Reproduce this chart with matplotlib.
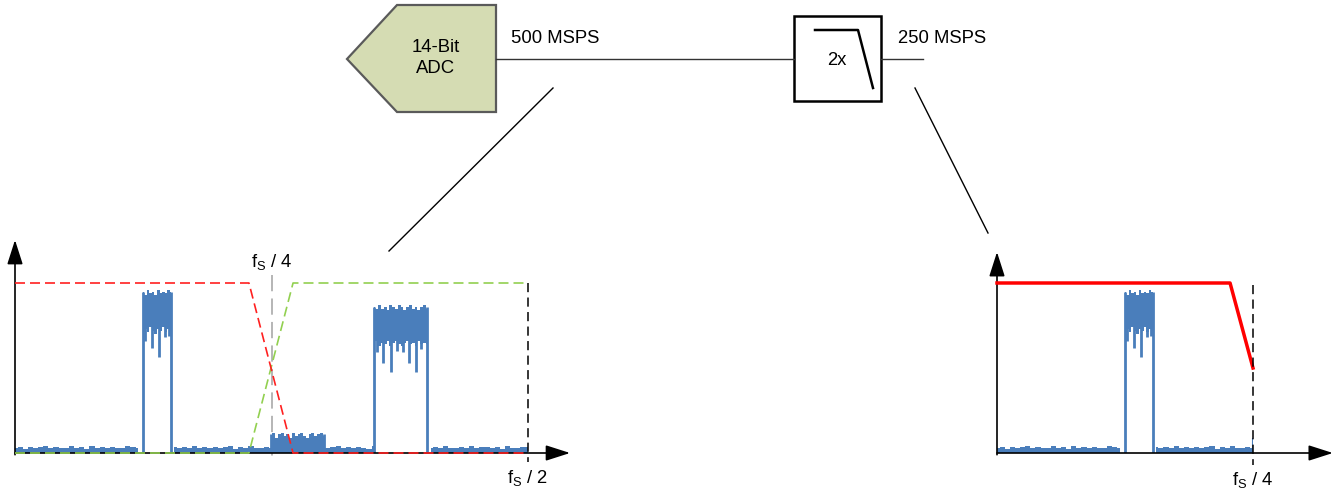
import numpy as np
import matplotlib.pyplot as plt
from matplotlib.patches import Polygon, Rectangle

plt.rcParams['font.family'] = ['Liberation Sans', 'DejaVu Sans']
plt.rcParams['mathtext.fontset'] = 'custom'
plt.rcParams['mathtext.rm'] = 'Liberation Sans'
plt.rcParams['mathtext.it'] = 'Liberation Sans:italic'

BLUE = '#4a7ebb'

# ---- spectrum data: x in MHz (fs = 500 MSPS), y normalised 0..1 ----
floor_left = [0.030, 0.034, 0.026, 0.038, 0.029, 0.033, 0.041, 0.027, 0.035, 0.031,
              0.028, 0.039, 0.032, 0.036, 0.026, 0.042, 0.030, 0.034, 0.029, 0.037,
              0.031, 0.027, 0.040, 0.033, 0.028, 0.036, 0.030, 0.045, 0.032, 0.029,
              0.035, 0.038, 0.027, 0.033, 0.030, 0.041, 0.028, 0.034, 0.031, 0.036,
              0.029, 0.033, 0.039, 0.026, 0.035, 0.030, 0.043, 0.028, 0.032, 0.037,
              0.030, 0.034, 0.027, 0.040, 0.031, 0.029, 0.036, 0.033, 0.028, 0.038,
              0.032, 0.027, 0.035, 0.041, 0.030, 0.034, 0.029, 0.037, 0.031, 0.026,
              0.039, 0.033, 0.030, 0.036, 0.028, 0.042, 0.031, 0.035, 0.027, 0.033,
              0.038, 0.030, 0.034, 0.029, 0.040, 0.032, 0.027, 0.036, 0.031, 0.044,
              0.028, 0.033, 0.037, 0.030, 0.035, 0.026, 0.039, 0.032, 0.029, 0.034,
              0.036]

# band: (start, stop, top edge samples, dense lower edge samples)
band1 = (62.4, 76.0,
         [0.95, 0.93, 0.96, 0.94, 0.95, 0.93, 0.96, 0.94, 0.95, 0.94, 0.96, 0.95],
         [0.70, 0.73, 0.71, 0.74, 0.72, 0.70, 0.73, 0.72, 0.74, 0.71, 0.73, 0.72])
band2 = (175.0, 200.8,
         [0.86, 0.85, 0.87, 0.85, 0.86, 0.84, 0.87, 0.86, 0.85, 0.87, 0.86, 0.84,
          0.86, 0.87, 0.85, 0.86, 0.84, 0.86, 0.87, 0.85],
         [0.64, 0.66, 0.63, 0.65, 0.64, 0.66, 0.63, 0.65, 0.66, 0.64, 0.63, 0.65,
          0.66, 0.64, 0.65, 0.63, 0.66, 0.64, 0.65, 0.64])
band_alias = (124.8, 150.6,
              [0.10, 0.12, 0.09, 0.11, 0.12, 0.10, 0.11, 0.09, 0.12, 0.10, 0.11, 0.12,
               0.10, 0.09, 0.11, 0.12, 0.10, 0.11, 0.12, 0.10],
              [0.0] * 20)
spikes1 = [(63.5, 0.66), (66.8, 0.62), (70.2, 0.565), (73.0, 0.68), (75.2, 0.69)]
spikes2 = [(176.4, 0.594), (179.3, 0.53), (183.2, 0.476), (186.0, 0.60),
           (189.1, 0.594), (192.0, 0.53), (195.4, 0.476), (198.0, 0.61)]

filt_x = [0, 114.0, 135.5, 250]
lowpass_y = [1, 1, 0, 0]
highpass_y = [0, 0, 1, 1]

dec_filt_x = [0, 113.8, 125]
dec_filt_y = [1, 1, 0.5]
right_edge_spike = [(125, 0.09)]

fig = plt.figure(figsize=(13.42, 4.91), dpi=100)

# ---- block diagram (pixel coordinates) ----
dax = fig.add_axes([0, 0, 1, 1])
dax.set_xlim(0, 1342)
dax.set_ylim(491, 0)
dax.axis('off')

dax.add_patch(Polygon([(397, 5), (496, 5), (496, 112), (397, 112), (347, 59)],
                      closed=True, fc='#d5dcb3', ec='#5a5a5a', lw=1.6))
dax.text(436, 58, '14-Bit\nADC', ha='center', va='center', fontsize=13.3, linespacing=1.3)
dax.plot([496, 794], [59, 59], color='#333333', lw=1.0)
dax.text(511, 38, '500 MSPS', ha='left', va='center', fontsize=13.3)

dax.add_patch(Rectangle((794, 16), 87, 85, fc='white', ec='black', lw=1.8))
dax.plot([815, 858, 873], [30, 30, 88], color='black', lw=1.8)
dax.text(837, 60, '2x', ha='center', va='center', fontsize=13.3)
dax.plot([881, 923], [59, 59], color='#333333', lw=1.0)
dax.text(898, 38, '250 MSPS', ha='left', va='center', fontsize=13.3)

dax.plot([553, 389], [88, 251], color='black', lw=1.0)
dax.plot([915, 988], [88, 233], color='black', lw=1.0)


def draw_band(ax, band, spikes):
    start, stop, top, low = band
    xs = np.linspace(start, stop, len(top))
    ax.fill_between(xs, low, top, step='mid', color=BLUE, lw=0, zorder=3)
    ax.vlines([start, stop], 0, max(top) - 0.01, color=BLUE, lw=2, zorder=3)
    for fx, depth in spikes:
        ax.vlines(fx, depth, 0.75, color=BLUE, lw=2, zorder=3)


def draw_floor(ax, xs, vals, gaps):
    xs = np.asarray(xs)
    vals = np.asarray(vals)
    mask = np.ones(len(xs), dtype=bool)
    for a, b in gaps:
        mask &= ~((xs > a) & (xs < b))
    ax.fill_between(xs, -0.012, vals, where=mask, step='mid', color=BLUE, lw=0, zorder=3)


def axis_arrows(ax, xtip, ytip):
    kw = dict(arrowstyle='-|>,head_length=1.0,head_width=0.32', color='black',
              lw=1.2, mutation_scale=15, shrinkA=0, shrinkB=0)
    ax.annotate('', xy=(xtip, 0), xytext=(0, 0), arrowprops=kw, annotation_clip=False)
    ax.annotate('', xy=(0, ytip), xytext=(0, -0.01), arrowprops=kw, annotation_clip=False)


# ---- left spectrum: 0 .. fs/2 ----
W, H = 1342.0, 491.0
axl = fig.add_axes([15 / W, (H - 453) / H, 513 / W, 170 / H])
axl.set_xlim(0, 250)
axl.set_ylim(0, 1)
axl.axis('off')

fl_x = np.linspace(0, 250, len(floor_left))
draw_floor(axl, fl_x, floor_left, [(band1[0], band1[1]), (band2[0], band2[1])])
draw_band(axl, band1, spikes1)
draw_band(axl, band2, spikes2)
draw_band(axl, band_alias, [])
axl.plot(filt_x, lowpass_y, color='#ff2020', lw=1.2, dashes=(6, 3), zorder=5, clip_on=False)
axl.plot(filt_x, highpass_y, color='#92d050', lw=1.2, dashes=(6, 3), zorder=4, clip_on=False)
axl.plot([125, 125], [1.047, -0.053], color='#b0b0b0', lw=1.3, dashes=(9, 4), zorder=2, clip_on=False)
axl.plot([250, 250], [1.0, -0.053], color='black', lw=1.1, dashes=(6, 3.5), zorder=6, clip_on=False)
axis_arrows(axl, 270.5, 1.253)
axl.text(125, 1.124, r'f$_\mathrm{S}$ / 4', ha='center', va='center', fontsize=13.3)
axl.text(250, -0.147, r'f$_\mathrm{S}$ / 2', ha='center', va='center', fontsize=13.3)

# ---- right spectrum after decimation: 0 .. fs/4 ----
axr = fig.add_axes([997 / W, (H - 453) / H, 256 / W, 170 / H])
axr.set_xlim(0, 125)
axr.set_ylim(0, 1)
axr.axis('off')

fr_x = fl_x[:51]
draw_floor(axr, fr_x, floor_left[:51], [(band1[0], band1[1])])
draw_band(axr, band1, spikes1)
for fx, lvl in right_edge_spike:
    axr.vlines(fx, 0, lvl, color=BLUE, lw=1.5, zorder=3)
axr.plot(dec_filt_x, dec_filt_y, color='#ff0000', lw=2.5, zorder=5, clip_on=False)
axr.plot([125, 125], [0.988, -0.07], color='black', lw=1.1, dashes=(6, 3.5), zorder=6, clip_on=False)
axis_arrows(axr, 164.0, 1.182)
axr.text(125, -0.159, r'f$_\mathrm{S}$ / 4', ha='center', va='center', fontsize=13.3)

fig.savefig('out.png', dpi=100)
